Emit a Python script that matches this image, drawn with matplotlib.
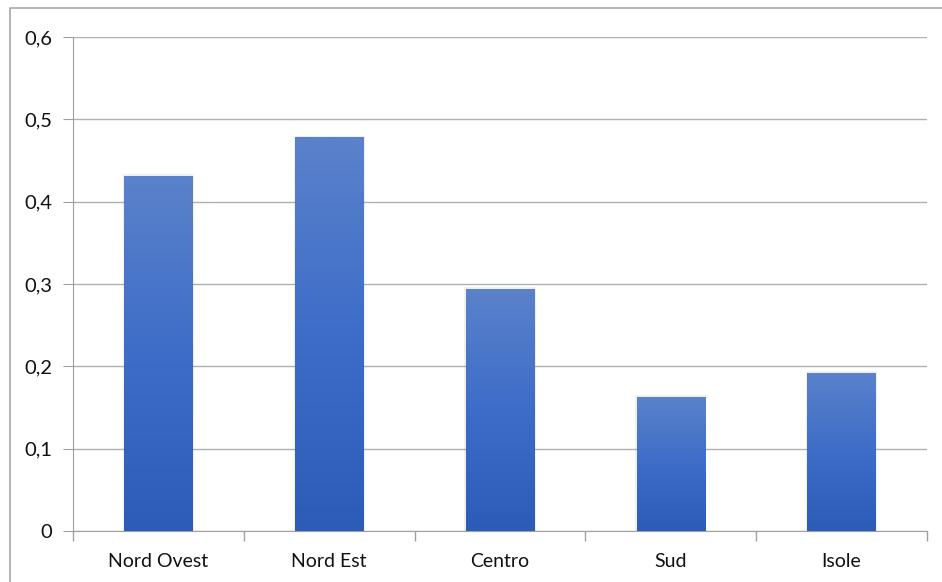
import numpy as np
import matplotlib.pyplot as plt
from matplotlib.lines import Line2D
from matplotlib.colors import LinearSegmentedColormap

plt.rcParams['font.family'] = ['Lato', 'DejaVu Sans']

regions = ["Nord Ovest", "Nord Est", "Centro", "Sud", "Isole"]
values = [0.431, 0.478, 0.2945, 0.163, 0.192]
yticks = [0, 0.1, 0.2, 0.3, 0.4, 0.5, 0.6]
ylabels = ["0", "0,1", "0,2", "0,3", "0,4", "0,5", "0,6"]

W, H = 942, 582
fig = plt.figure(figsize=(W / 100, H / 100), dpi=100)
ax = fig.add_axes([73 / W, 51 / H, (927 - 73) / W, (531 - 37) / H])

x = np.arange(len(regions))
bars = ax.bar(x, values, width=0.4, color='#4472c4', zorder=3)

# gradient fill, lighter at the top
cmap = LinearSegmentedColormap.from_list('blu', ['#2c5cb8', '#3d6dc8', '#5b82cb'])
grad = np.linspace(0, 1, 256).reshape(-1, 1)
for b in bars:
    bx, by = b.get_x(), b.get_y()
    bw, bh = b.get_width(), b.get_height()
    # soft shadow
    ax.bar(bx + bw / 2, bh + 0.002, width=bw + 0.018, bottom=0, color='#000000',
           alpha=0.06, zorder=2)
    im = ax.imshow(grad, cmap=cmap, extent=[bx, bx + bw, by, by + bh],
                   origin='lower', aspect='auto', zorder=4)
    im.set_clip_path(b)

ax.set_xlim(-0.5, len(regions) - 0.5)
ax.set_ylim(0, 0.6)

ax.set_yticks(yticks)
ax.set_yticklabels(ylabels, fontsize=14.5, color='#111111')
ax.set_xticks(x)
ax.set_xticklabels(regions, fontsize=14, color='#111111')
ax.tick_params(axis='x', length=0, pad=16)
ax.tick_params(axis='y', length=7, color='#a0a0a0', pad=8)

# category boundary ticks on the x axis
ax.set_xticks(np.arange(len(regions) + 1) - 0.5, minor=True)
ax.tick_params(axis='x', which='minor', length=7, color='#a0a0a0', width=1)

ax.grid(axis='y', color='#b0b0b0', linewidth=1, zorder=0)
for s in ['top', 'right']:
    ax.spines[s].set_visible(False)
ax.spines['left'].set_color('#a0a0a0')
ax.spines['bottom'].set_color('#a0a0a0')

# outer frame of the chart
fig.add_artist(Line2D([10 / W, 10 / W, 1], [0, 1 - 8 / H, 1 - 8 / H],
                      transform=fig.transFigure, color='#a8a8a8', linewidth=1.2))

fig.savefig('out.png', dpi=100)
